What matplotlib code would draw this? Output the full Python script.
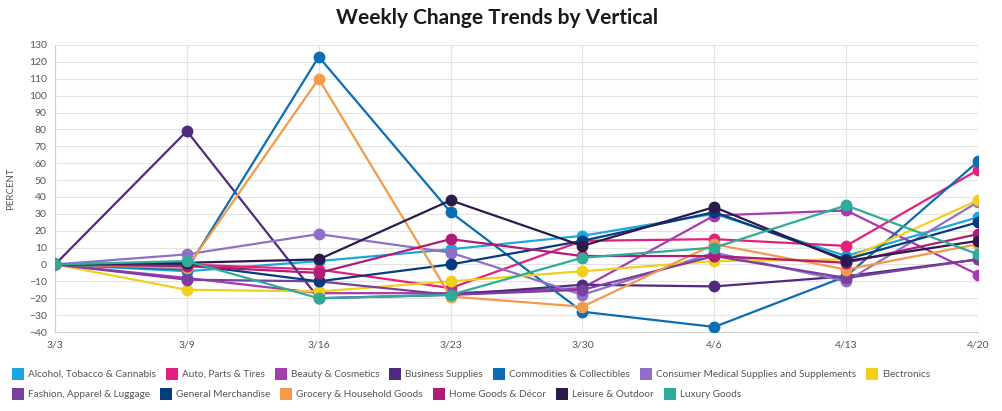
import numpy as np
import matplotlib
matplotlib.use('Agg')
import matplotlib.pyplot as plt
from matplotlib.patches import Rectangle

plt.rcParams['font.family'] = ['Lato', 'DejaVu Sans']

##------------------------------------- DATA -------------------------------------
weeks = ['3/3', '3/9', '3/16', '3/23', '3/30', '4/6', '4/13', '4/20']

alcohol     = [0, -4, 2, 9, 17, 30, 5, 28]
auto        = [0, 0, -3, -14, 14, 15, 11, 56]
beauty      = [0, -8, -17, -17, -14, 29, 32, -6]
business    = [0, 79, -20, -18, -12, -13, -7, 3]
commodities = [0, -3, 123, 31, -28, -37, -7, 61]
medical     = [0, 6, 18, 7, -18, 7, -10, 37]
electronics = [0, -15, -16, -10, -4, 2, 3, 38]
fashion     = [0, -9, -10, -18, -15, 5, -8, 3]
general     = [0, 0, -10, 0, 14, 31, 3, 25]
grocery     = [0, -2, 110, -19, -25, 12, -3, 12]
home        = [0, -1, -5, 15, 5, 5, 1, 18]
leisure     = [0, 1, 3, 38, 11, 34, 2, 14]
luxury      = [0, 2, -20, -18, 4, 10, 35, 6]

names = ['Alcohol, Tobacco & Cannabis', 'Auto, Parts & Tires', 'Beauty & Cosmetics',
         'Business Supplies', 'Commodities & Collectibles',
         'Consumer Medical Supplies and Supplements', 'Electronics',
         'Fashion, Apparel & Luggage', 'General Merchandise', 'Grocery & Household Goods',
         'Home Goods & Décor', 'Leisure & Outdoor', 'Luxury Goods']
series = [alcohol, auto, beauty, business, commodities, medical, electronics,
          fashion, general, grocery, home, leisure, luxury]
colors = ['#1aa7e0', '#e3217c', '#a63bb0', '#4f2a7e', '#0b6db3', '#916fc6', '#f2cf1d',
          '#7b3f9f', '#063c7c', '#f39a4b', '#b01b73', '#2c1a4d', '#2fab99']

##------------------------------------- PLOT -------------------------------------
fig = plt.figure(figsize=(10.02, 4.11), dpi=100)
ax = fig.add_axes([55/1002, 1-332/411, (978-55)/1002, (332-45)/411])

x = np.arange(len(weeks))
for vals, c in zip(series, colors):
    ax.plot(x, vals, color=c, lw=1.6, marker='o', ms=7.5, zorder=3)

ax.set_xlim(0, len(weeks)-1)
ax.set_ylim(-40, 130)
ax.set_yticks(np.arange(-40, 131, 10))
ax.set_xticks(x)
ax.set_xticklabels(weeks)
ax.grid(True, color='#e3e3e3', lw=0.8, zorder=0)
for s in ['top', 'right']:
    ax.spines[s].set_visible(False)
for s in ['left', 'bottom']:
    ax.spines[s].set_color('#cfcfcf')
ax.tick_params(length=0, labelsize=7.5, labelcolor='#555555', pad=6)
ax.set_ylabel('PERCENT', fontsize=7, color='#555555', labelpad=10)

fig.text(497/1002, 1-18/411, 'Weekly Change Trends by Vertical', ha='center', va='center',
         fontsize=15, fontweight='bold', color='#1a1a1a')

#legend drawn as a flowing row layout
fig.canvas.draw()
renderer = fig.canvas.get_renderer()
rows = [range(0, 7), range(7, 13)]
row_y = [374, 394]
W, H = 1002, 411
sq = 12
for r, idxs in zip(row_y, rows):
    xp = 12
    for i in idxs:
        fig.patches.append(Rectangle((xp/W, 1-(r+sq/2)/H), sq/W, sq/H, transform=fig.transFigure,
                                     facecolor=colors[i], edgecolor='none'))
        t = fig.text((xp+sq+4)/W, 1-r/H, names[i], fontsize=7.2, color='#555555', va='center')
        w = t.get_window_extent(renderer).width
        xp += sq + 4 + w + 10

fig.savefig('out.png', dpi=100)
